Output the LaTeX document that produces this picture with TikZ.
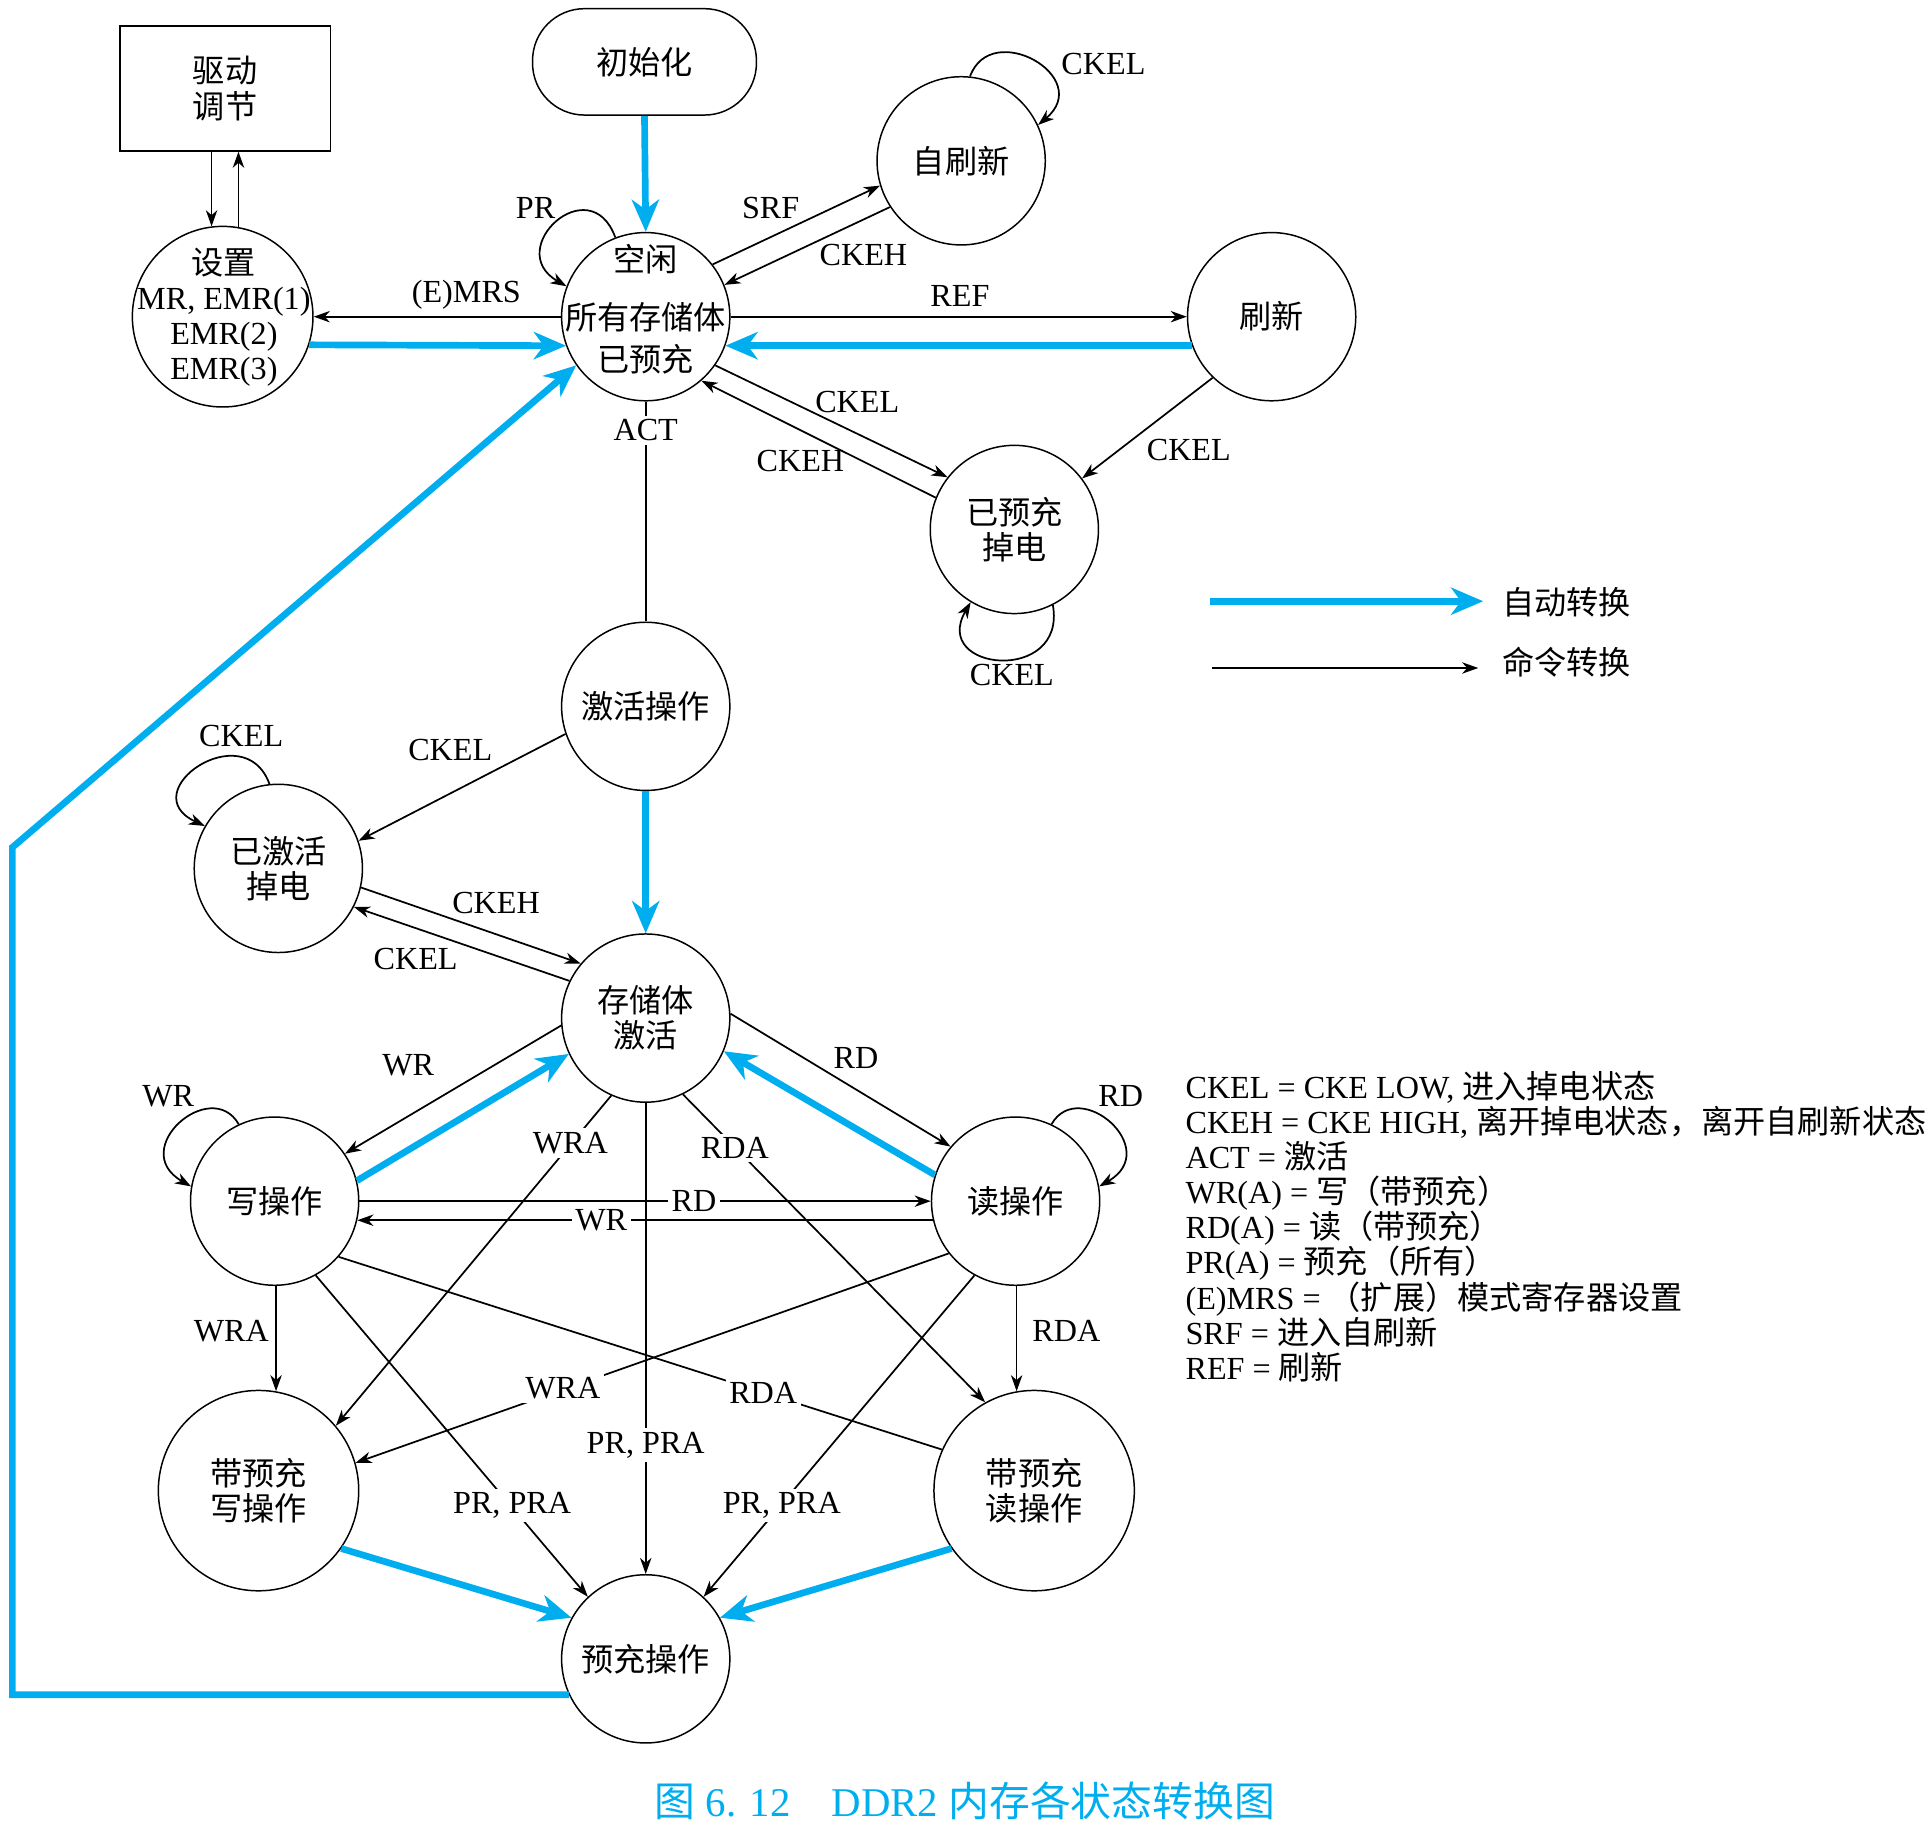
\documentclass[tikz,border=0pt]{standalone}
\usepackage{fontspec}
\setmainfont{Liberation Serif}
\newfontfamily\cjk{Noto Sans CJK SC}
\usetikzlibrary{arrows.meta}
\definecolor{autoblue}{RGB}{0,174,239}
\begin{document}
\begin{tikzpicture}[x=0.5pt,y=0.5pt,
  every node/.style={font=\fontsize{13pt}{14pt}\selectfont, inner sep=1pt},
  statenode/.style={draw, circle, line width=0.6pt, minimum size=68pt, inner sep=0pt, align=center, font=\cjk\fontsize{13pt}{14.2pt}\selectfont},
  bignode/.style={statenode, minimum size=81pt},
  cmd/.style={line width=0.7pt, -{Stealth[length=6.5pt,width=4.6pt,inset=2pt]}},
  cmdline/.style={line width=0.7pt},
  autoarrow/.style={draw=autoblue, line width=2.7pt, -{Stealth[length=13pt,width=11pt,inset=4pt]}},
  lbl/.style={font=\fontsize{13pt}{14pt}\selectfont, inner sep=1pt},
  cutlbl/.style={lbl, fill=white, inner sep=1.5pt},
  cjktext/.style={font=\cjk\fontsize{13pt}{14.2pt}\selectfont, inner sep=0pt, align=center},
]
\path[use as bounding box] (0,0) rectangle (1560.2,-1474.5);

% ---------- states ----------
\node[draw, rectangle, line width=0.6pt, minimum width=85pt, minimum height=50.5pt, align=center, font=\cjk\fontsize{13pt}{14.8pt}\selectfont] (drive) at (182,-71.5) {驱动\\调节};
\node[draw, rectangle, rounded corners=21pt, line width=0.6pt, minimum width=90.5pt, minimum height=43pt, font=\cjk\fontsize{13pt}{14pt}\selectfont] (init) at (521,-50) {初始化};
\node[statenode, minimum size=73pt] (set) at (180,-256) {};
\node[align=center, inner sep=0pt, font=\fontsize{13pt}{14.15pt}\selectfont] (settxt) at (181,-256.5) {{\cjk 设置}\\MR, EMR(1)\\EMR(2)\\EMR(3)};
\node[statenode] (idle) at (522,-256) {};
\node[cjktext] (idletxt) at (522,-250) {空闲\\[9pt]所有存储体\\[2.85pt]已预充};
\node[statenode] (selfref) at (777,-130) {自刷新};
\node[statenode] (refresh) at (1028,-256) {刷新};
\node[statenode] (prepd) at (820,-428) {已预充\\掉电};
\node[statenode] (act) at (522,-571) {激活操作};
\node[statenode] (actpd) at (225,-702) {已激活\\掉电};
\node[statenode] (bank) at (522,-823) {存储体\\激活};
\node[statenode] (wr) at (222,-971) {写操作};
\node[statenode] (rd) at (821,-971) {读操作};
\node[bignode] (wra) at (209,-1205) {带预充\\写操作};
\node[bignode] (rda) at (836,-1205) {带预充\\读操作};
\node[statenode] (pre) at (522,-1341) {预充操作};

% ---------- connectors ----------
\draw[cmd] (set.97 |- drive.south) -- (set.97);
\draw[cmd] (set.80) -- (set.80 |- drive.south);
\draw[autoarrow] (init.south) -- (idle.north);
\draw[cmd] (idle.111) .. controls +(110:60) and +(150:60) .. (idle.159);
\draw[cmd] (idle.38.6) -- (selfref.197.7);
\draw[cmd] (selfref.213) -- (idle.22.3);
\draw[cmd] (selfref.84) .. controls +(70:50) and +(40:60) .. (selfref.25.5);
\draw[cmd] (idle.west) -- (set.east);
\draw[autoarrow] (set.-18) -- (idle.200);
\draw[cmd] (idle.east) -- (refresh.west);
\draw[autoarrow] (refresh.200) -- (idle.-20);
\draw[cmd] (idle.-35.6) -- (prepd.142.5);
\draw[cmd] (prepd.158.9) -- (idle.-49.5);
\draw[cmd] (refresh.226) -- (prepd.37.2);
\draw[cmd] (prepd.-63) .. controls +(-80:65) and +(240:65) .. (prepd.-121.4);
\draw[cmdline] (idle.south) -- (act.north);
\draw[cmd] (act.199) -- (actpd.19.2);
\draw[autoarrow] (act.south) -- (bank.north);
\draw[cmd] (actpd.96) .. controls +(110:60) and +(155:65) .. (actpd.150.6);
\draw[cmd] (actpd.-13.2) -- (bank.140.9);
\draw[cmd] (bank.154.8) -- (actpd.-27.4);
\draw[cmd] (bank.185) -- (wr.34);
\draw[autoarrow] (wr.14.4) -- (bank.205.7);
\draw[cmd] (bank.3) -- (rd.140);
\draw[autoarrow] (rd.162) -- (bank.-23);
\draw[cmd] (wr.115) .. controls +(120:45) and +(150:60) .. (wr.170);
\draw[cmd] (rd.65) .. controls +(60:45) and +(30:60) .. (rd.10);
\draw[cmd] (wr.east) -- (rd.west);
\draw[cmd] (rd.193) -- (wr.-13);
\draw[cmd] (bank.246.6) -- (wra.40.7);
\draw[cmd] (bank.-64) -- (rda.119);
\draw[cmd] (bank.south) -- (pre.north);
\draw[cmd] (wra.80 |- wr.south) -- (wra.80);
\draw[cmd] (rda.100 |- rd.south) -- (rda.100);
\draw[cmd] (wr.-61.7) -- (pre.133);
\draw[cmd] (rd.241.7) -- (pre.47);
\draw[cmd] (rd.218) -- (wra.16.8);
\draw[cmdline] (wr.-41.6) -- (rda.156.6);
\draw[autoarrow] (wra.-35) -- (pre.151);
\draw[autoarrow] (rda.215) -- (pre.29);
\coordinate (bl) at (10,-685);
\draw[autoarrow] (pre.205) -| (bl) -- (idle.215);

% ---------- labels ----------
\node[lbl] (lPR) at (433,-168) {PR};
\node[lbl] (lSRF) at (623,-168) {SRF};
\node[lbl] (lCKEHa) at (698,-206) {CKEH};
\node[lbl] (lCKELa) at (892,-52) {CKEL};
\node[lbl] (lEMRS) at (377,-238.5) {(E)MRS};
\node[lbl] (lREF) at (776,-239) {REF};
\node[lbl] (lCKELb) at (693,-325) {CKEL};
\node[lbl] (lCKEHb) at (647,-373) {CKEH};
\node[lbl] (lCKELc) at (961,-364) {CKEL};
\node[lbl] (lCKELd) at (818,-546) {CKEL};
\node[cutlbl] (lACT) at (522,-348) {ACT};
\node[lbl] (lCKELe) at (364,-606) {CKEL};
\node[lbl] (lCKELf) at (195,-595) {CKEL};
\node[lbl] (lCKEHc) at (401,-730) {CKEH};
\node[lbl] (lCKELg) at (336,-775) {CKEL};
\node[lbl] (lWRa) at (330,-861) {WR};
\node[lbl] (lRDa) at (692,-855) {RD};
\node[lbl] (lWRb) at (136,-886) {WR};
\node[lbl] (lRDb) at (906,-886) {RD};
\node[cutlbl] (lRDc) at (561,-971) {RD};
\node[cutlbl] (lWRc) at (486,-986) {WR};
\node[cutlbl] (lWRAa) at (461,-924) {WRA};
\node[cutlbl] (lRDAa) at (594,-928) {RDA};
\node[cutlbl] (lPRa) at (522,-1168) {PR, PRA};
\node[cutlbl] (lPRb) at (414,-1217) {PR, PRA};
\node[cutlbl] (lPRc) at (632,-1217) {PR, PRA};
\node[cutlbl] (lWRAb) at (455,-1122) {WRA};
\node[cutlbl] (lRDAb) at (617,-1126) {RDA};
\node[lbl] (lWRAc) at (187,-1076) {WRA};
\node[lbl] (lRDAc) at (862,-1076) {RDA};

% ---------- legend ----------
\coordinate (la1) at (978,-486);
\coordinate (la2) at (1199,-486);
\draw[autoarrow] (la1) -- (la2);
\node[cjktext, anchor=west] (lt1) at (1214,-486.5) {自动转换};
\coordinate (lb1) at (980,-540);
\coordinate (lb2) at (1195,-540);
\draw[cmd] (lb1) -- (lb2);
\node[cjktext, anchor=west] (lt2) at (1214,-535) {命令转换};

\node[anchor=west, align=left, inner sep=0pt, font=\fontsize{13pt}{14.2pt}\selectfont] (legend) at (958,-991.5) {%
CKEL = CKE LOW, {\cjk 进入掉电状态}\\
CKEH = CKE HIGH, {\cjk 离开掉电状态，离开自刷新状态}\\
ACT = {\cjk 激活}\\
WR(A) = {\cjk 写（带预充）}\\
RD(A) = {\cjk 读（带预充）}\\
PR(A) = {\cjk 预充（所有）}\\
(E)MRS = {\cjk （扩展）模式寄存器设置}\\
SRF = {\cjk 进入自刷新}\\
REF = {\cjk 刷新}};

% ---------- caption ----------
\node[text=autoblue, inner sep=0pt, font=\fontsize{16.5pt}{18pt}\selectfont] (caption) at (780,-1456) {{\cjk 图} 6. 12{\cjk 　}DDR2 {\cjk 内存各状态转换图}};
\end{tikzpicture}
\end{document}
